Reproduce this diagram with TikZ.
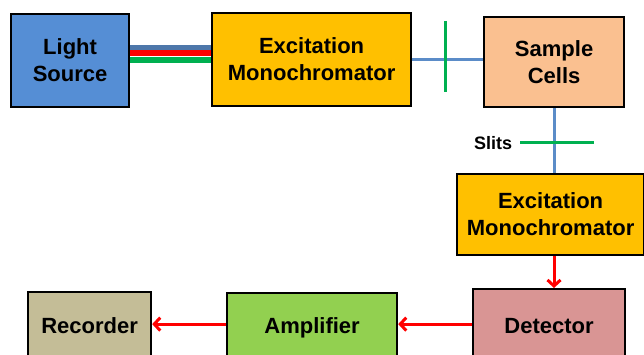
\documentclass[tikz,border=0pt]{standalone}
\usepackage{fontspec}
\setmainfont{Liberation Sans}
\usetikzlibrary{arrows.meta}
\definecolor{lsblue}{HTML}{558ED5}
\definecolor{monoc}{HTML}{FFC000}
\definecolor{samplec}{HTML}{FAC090}
\definecolor{detc}{HTML}{D99594}
\definecolor{ampc}{HTML}{92D050}
\definecolor{recc}{HTML}{C4BD97}
\definecolor{lineblue}{HTML}{5B8CC8}
\definecolor{slitgreen}{HTML}{00B050}
\definecolor{bundlered}{HTML}{FF0000}
\begin{document}
\begin{tikzpicture}[x=1pt,y=-1pt,
  box/.style={draw=black, line width=2.2pt, font=\bfseries\fontsize{22}{27}\selectfont,
    align=center, inner sep=0pt, anchor=north west},
  onebox/.style={box, text height=16pt, text depth=5pt},
  bluelink/.style={draw=lineblue, line width=3pt},
  slit/.style={draw=slitgreen, line width=3pt},
  redarrow/.style={draw=bundlered, line width=3pt, -{Straight Barb[length=6pt,width=13pt,line width=3pt]}}]
\useasboundingbox (0,0) rectangle (644,355);
\clip (0,0) rectangle (644,355);
% boxes
\node[box, fill=lsblue, minimum width=118pt, minimum height=93pt] (ls) at (10,13) {Light\\Source};
\node[box, fill=monoc, minimum width=199pt, minimum height=93pt] (mono1) at (211,12) {Excitation\\Monochromator};
\node[box, fill=samplec, minimum width=140pt, minimum height=90pt] (sample) at (483,16) {Sample\\Cells};
\node[box, fill=monoc, minimum width=187pt, minimum height=81pt] (mono2) at (456,173) {Excitation\\Monochromator};
\node[onebox, fill=detc, minimum width=152pt, minimum height=78pt] (det) at (472,288) {Detector};
\node[onebox, fill=ampc, minimum width=170pt, minimum height=70pt] (amp) at (226,292) {Amplifier};
\node[onebox, fill=recc, minimum width=123pt, minimum height=72pt] (rec) at (27,291) {Recorder};
% light bundle
\draw[draw=lineblue!85!black, line width=4.5pt] ([yshift=13.2pt]ls.east) -- ([yshift=13.2pt]ls.east -| mono1.west);
\draw[draw=bundlered, line width=6pt] ([yshift=7.2pt]ls.east) -- ([yshift=7.2pt]ls.east -| mono1.west);
\draw[draw=slitgreen, line width=6pt] ([yshift=0.7pt]ls.east) -- ([yshift=0.7pt]ls.east -| mono1.west);
% mono1 -> sample
\draw[bluelink] (mono1.east) -- (mono1.east -| sample.west);
\coordinate (s1a) at (445,21);
\coordinate (s1b) at (445,92);
\draw[slit] (s1a) -- (s1b);
% sample -> mono2
\coordinate (vx) at (554,0);
\draw[bluelink] (vx |- sample.south) -- (vx |- mono2.north);
\coordinate (s2a) at (520,143);
\coordinate (s2b) at (594,143);
\draw[slit] (s2a) -- (s2b);
\node[font=\bfseries\fontsize{18}{21}\selectfont, inner sep=0pt] (slitlbl) at (493,143) {Slits};
% red arrows
\draw[redarrow] (vx |- mono2.south) -- (vx |- det.north);
\draw[redarrow] ([yshift=4pt]det.west) -- ([yshift=4pt]det.west -| amp.east);
\draw[redarrow] ([yshift=4pt]amp.west) -- ([yshift=4pt]amp.west -| rec.east);
\end{tikzpicture}
\end{document}
